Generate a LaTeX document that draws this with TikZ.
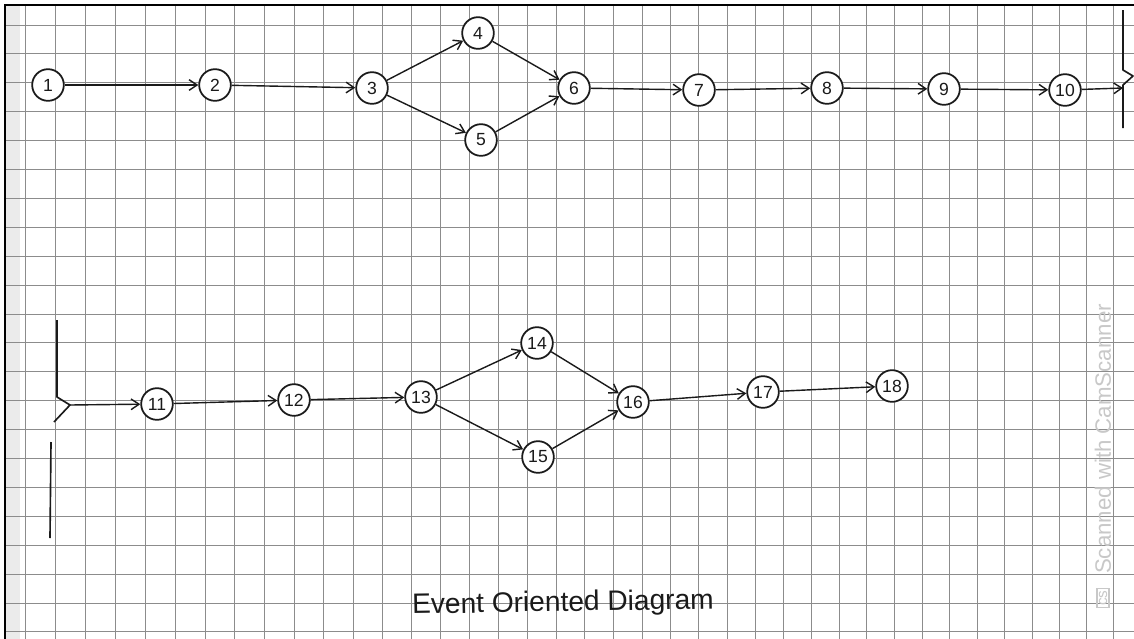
\documentclass[tikz,border=0pt]{standalone}
\usepackage{fontspec}
\setmainfont{Liberation Sans}
\usetikzlibrary{arrows.meta, positioning}
\definecolor{gridgray}{HTML}{8C8C8C}
\definecolor{inkblack}{HTML}{1A1A1A}
\definecolor{markgray}{HTML}{C8C8C8}
\tikzset{
  % maglia del foglio a quadretti
  paper/.style={gridgray, line width=0.8pt},
  % evento (cerchio numerato)
  event/.style={circle, draw=inkblack, line width=1.5pt, fill=white, minimum size=0.95cm,
    inner sep=0pt, font=\fontsize{15}{17}\selectfont, text=inkblack},
  % attivita' tra due eventi
  act/.style={-{Straight Barb[length=2.4mm, width=3.2mm]}, line width=1.2pt, inkblack},
  % simbolo di interruzione
  brk/.style={line width=1.4pt, inkblack, line join=round},
}
\begin{document}
\begin{tikzpicture}[x=0.03cm, y=-0.03cm]
  \useasboundingbox (0,0) rectangle (1134,639);
  \fill[white] (0,0) rectangle (1134,639);
  \fill[black!8] (5,5) rectangle (20,639);
  % quadretti
  \foreach \n in {0,...,38} {
    \pgfmathsetmacro{\gx}{25+30.3*\n-0.0437*\n*\n}
    \draw[paper] (\gx,6) -- (\gx,639);
  }
  \foreach \n in {0,...,21} {
    \pgfmathsetmacro{\gy}{25+28.9*\n}
    \draw[paper] (6,\gy) -- (1134,\gy);
  }
  \draw[black, line width=1.2pt] (5,639) -- (5,5) -- (1134,5);

  % prima riga
  \node[event] (e1) at (48,85) {1};
  \node[event] (e2) at (215,85) {2};
  \node[event] (e3) at (372,88) {3};
  \node[event] (e4) at (478,33) {4};
  \node[event] (e5) at (481,140) {5};
  \node[event] (e6) at (574,88) {6};
  \node[event] (e7) at (699,90) {7};
  \node[event] (e8) at (827,88) {8};
  \node[event] (e9) at (944,89) {9};
  \node[event] (e10) at (1065,90) {10};
  \coordinate (cut1) at (1123,88);
  \draw[brk] (1123,10) -- (1123,70) -- (1133,76) -- (1123,85) -- (1123,128);

  % seconda riga
  \coordinate (cut2) at (70,405);
  \draw[brk] (57,320) -- (57,397) -- (cut2) -- (54,422);
  \draw[brk] (51,442) -- (50,538);
  \node[event] (e11) at (157,404) {11};
  \node[event] (e12) at (294,400) {12};
  \node[event] (e13) at (421,397) {13};
  \node[event] (e14) at (537,343) {14};
  \node[event] (e15) at (538,457) {15};
  \node[event] (e16) at (633,402) {16};
  \node[event] (e17) at (763,392) {17};
  \node[event] (e18) at (892,386) {18};

  \foreach \a/\b in {e1/e2, e2/e3, e3/e4, e3/e5, e4/e6, e5/e6, e6/e7, e7/e8, e8/e9, e9/e10,
    e10/cut1, cut2/e11, e11/e12, e12/e13, e13/e14, e13/e15, e14/e16, e15/e16, e16/e17, e17/e18}
    \draw[act] (\a) -- (\b);

  \node[font=\fontsize{24}{28}\selectfont, text=inkblack, rotate=1] (title) at (563,604) {Event Oriented Diagram};
  \node[font=\fontsize{19}{22}\selectfont, text=markgray, rotate=90, anchor=west] (scan) at (1103,578) {Scanned with CamScanner};
  \node[draw=markgray, line width=1pt, font=\fontsize{13}{14}\selectfont, text=markgray, rotate=90, inner sep=1.5pt] (cs) at (1103,598) {cs};
\end{tikzpicture}
\end{document}
